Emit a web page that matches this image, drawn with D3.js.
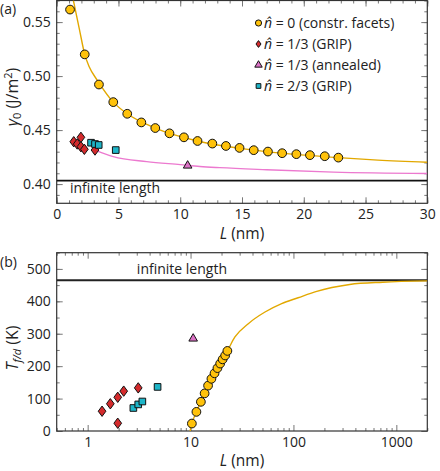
<!DOCTYPE html>
<html>
<head>
<meta charset="utf-8">
<script src="https://cdn.jsdelivr.net/npm/d3@7"></script>
<style>
  body { margin: 0; background: #fff; }
  svg text { font-family: "Open Sans", "DejaVu Sans", sans-serif; fill: #222; }
</style>
</head>
<body>
<svg id="vis" width="440" height="471"></svg>
<script>
// n = 0 (constrained facets)
const circL = [1.08, 2.27, 3.42, 4.58, 5.71, 6.85, 7.98, 9.13, 10.3, 11.4, 12.6, 13.7, 14.8, 15.95, 17.1, 18.25, 19.4, 20.5, 21.7, 22.8];
const circGamma = [0.5616, 0.5201, 0.4922, 0.4759, 0.4651, 0.4571, 0.4519, 0.447, 0.4433, 0.4399, 0.4375, 0.4353, 0.4335, 0.4314, 0.4301, 0.4286, 0.4277, 0.4268, 0.4258, 0.4245];
const circTL = [10.3, 11.4, 12.6, 13.7, 14.8, 15.95, 17.1, 18.25, 19.4, 20.5, 21.7, 22.8];
const circT = [23, 59, 90, 116, 140, 161, 178, 194, 208, 221, 233, 247];

// n = 1/3 (GRIP)
const diaL = [1.38, 1.66, 1.96, 1.96, 2.24, 3.1];
const diaGamma = [0.4392, 0.4371, 0.4433, 0.4346, 0.4322, 0.4315];
const diaT = [61, 84, 104, 24, 123, 133];

// n = 1/3 (annealed)
const triL = [10.6];
const triGamma = [0.4171];
const triT = [285];

// n = 2/3 (GRIP)
const sqL = [2.78, 3.1, 3.4, 4.78];
const sqGamma = [0.4383, 0.4371, 0.4362, 0.4315];
const sqT = [71, 82, 91, 136];

// fitted curves
const fitTopL = [1.35, 1.83, 2.27, 2.64, 3.29, 4.58, 5.71, 7.98, 11.4, 15.95, 22.8, 26, 30];
const fitTopG = [0.570, 0.5438, 0.5201, 0.5084, 0.4961, 0.4759, 0.4651, 0.4519, 0.4399, 0.4314, 0.4245, 0.4222, 0.4202];
const pinkL = [3.1, 4.58, 7.29, 10.0, 11.6, 13.2, 17, 22.4, 30];
const pinkG = [0.4315, 0.4254, 0.4208, 0.418, 0.4163, 0.4152, 0.4133, 0.4111, 0.4098];
const fitBotL = [9.9, 10.3, 11.4, 12.6, 14.8, 17.1, 19.4, 22.8, 27, 36.4, 52.9, 76.8, 111, 165, 352, 738, 2000];
const fitBotT = [0, 23, 59, 90, 140, 178, 208, 247, 290, 331, 367, 393, 411, 430, 452, 459, 463];

const gammaInf = 0.4032;
const tInf = 465;

const legendLabels = ["0 (constr. facets)", "1/3 (GRIP)", "1/3 (annealed)", "2/3 (GRIP)"];

const yellow = "#ffc20a", yellowLine = "#e2a800", red = "#d42a2c", pink = "#dc72c6", pinkLine = "#ec79cf", teal = "#1db5c8";

const svg = d3.select("#vis");
const left = 56.7, right = 427.3;

const zip = (a, b) => a.map((v, i) => [v, b[i]]);

const diamond = {
  draw(ctx, size) {
    const h = Math.sqrt(size) * 0.62, w = h * 0.74;
    ctx.moveTo(0, -h); ctx.lineTo(w, 0); ctx.lineTo(0, h); ctx.lineTo(-w, 0); ctx.closePath();
  }
};

function frameAxes(g, x, y, opts) {
  const [x0, x1] = x.range(), [y0, y1] = y.range();
  const style = sel => {
    sel.select(".domain").remove();
    sel.selectAll("line").attr("stroke", "#777");
    sel.selectAll("text").attr("font-size", 14).attr("fill", "#222");
  };
  // bottom
  g.append("g").attr("transform", `translate(0,${y0})`)
    .call(d3.axisBottom(x).tickValues(opts.xMinor).tickSize(-3).tickFormat("")).call(style);
  g.append("g").attr("transform", `translate(0,${y0})`)
    .call(d3.axisBottom(x).tickValues(opts.xMajor).tickSize(-6).tickPadding(6).tickFormat(opts.xFmt)).call(style);
  // top
  g.append("g").attr("transform", `translate(0,${y1})`)
    .call(d3.axisTop(x).tickValues(opts.xMinor).tickSize(-3).tickFormat("")).call(style);
  g.append("g").attr("transform", `translate(0,${y1})`)
    .call(d3.axisTop(x).tickValues(opts.xMajor).tickSize(-6).tickFormat("")).call(style);
  // left
  g.append("g").attr("transform", `translate(${x0},0)`)
    .call(d3.axisLeft(y).tickValues(opts.yMinor).tickSize(-3).tickFormat("")).call(style);
  g.append("g").attr("transform", `translate(${x0},0)`)
    .call(d3.axisLeft(y).tickValues(opts.yMajor).tickSize(-6).tickPadding(6).tickFormat(opts.yFmt)).call(style);
  // right
  g.append("g").attr("transform", `translate(${x1},0)`)
    .call(d3.axisRight(y).tickValues(opts.yMinor).tickSize(-3).tickFormat("")).call(style);
  g.append("g").attr("transform", `translate(${x1},0)`)
    .call(d3.axisRight(y).tickValues(opts.yMajor).tickSize(-6).tickFormat("")).call(style);

  g.append("rect").attr("x", x0).attr("y", y1).attr("width", x1 - x0).attr("height", y0 - y1)
    .attr("fill", "none").attr("stroke", "#333").attr("stroke-width", 1.2);
}

function markers(g, pts, type, size, fill) {
  g.selectAll(null).data(pts).join("path")
    .attr("transform", d => `translate(${d[0]},${d[1]})`)
    .attr("d", d3.symbol().type(type).size(size))
    .attr("fill", fill).attr("stroke", "#111").attr("stroke-width", 1);
}

// ---------- panel (a) ----------
const xa = d3.scaleLinear().domain([0, 30]).range([left, right]);
const ya = d3.scaleLinear().domain([0.3822, 0.570]).range([203.3, 0.5]);
const ga = svg.append("g");
svg.append("clipPath").attr("id", "clipA").append("rect")
  .attr("x", left).attr("y", 0.5).attr("width", right - left).attr("height", 202.8);

frameAxes(ga, xa, ya, {
  xMajor: d3.range(0, 31, 5), xMinor: d3.range(0, 31, 1), xFmt: d3.format("d"),
  yMajor: [0.40, 0.45, 0.50, 0.55], yMinor: d3.range(0.39, 0.571, 0.01), yFmt: d3.format(".2f")
});

const pa = ga.append("g").attr("clip-path", "url(#clipA)");
pa.append("line").attr("x1", left).attr("x2", right).attr("y1", ya(gammaInf)).attr("y2", ya(gammaInf))
  .attr("stroke", "#111").attr("stroke-width", 1.8);
const lineA = d3.line().x(d => xa(d[0])).y(d => ya(d[1])).curve(d3.curveMonotoneX);
pa.append("path").datum(zip(fitTopL, fitTopG)).attr("d", lineA).attr("fill", "none").attr("stroke", yellowLine).attr("stroke-width", 1.4);
pa.append("path").datum(zip(pinkL, pinkG)).attr("d", lineA).attr("fill", "none").attr("stroke", pinkLine).attr("stroke-width", 1.4);

markers(pa, zip(circL, circGamma).map(d => [xa(d[0]), ya(d[1])]), d3.symbolCircle, 60, yellow);
markers(pa, zip(diaL, diaGamma).map(d => [xa(d[0]), ya(d[1])]), diamond, 70, red);
markers(pa, zip(sqL, sqGamma).map(d => [xa(d[0]), ya(d[1])]), d3.symbolSquare, 44, teal);
markers(pa, zip(triL, triGamma).map(d => [xa(d[0]), ya(d[1])]), d3.symbolTriangle, 32, pink);

ga.append("text").attr("x", 70).attr("y", 193).attr("font-size", 14).text("infinite length");

// legend
const legTypes = [d3.symbolCircle, diamond, d3.symbolTriangle, d3.symbolSquare];
const legFills = [yellow, red, pink, teal];
const legSizes = [30, 30, 24, 22];
const leg = ga.append("g");
legendLabels.forEach((lab, i) => {
  const yy = 23 + i * 21;
  leg.append("path").attr("transform", `translate(258.5,${yy})`)
    .attr("d", d3.symbol().type(legTypes[i]).size(legSizes[i]))
    .attr("fill", legFills[i]).attr("stroke", "#111").attr("stroke-width", 1);
  const t = leg.append("text").attr("x", 264).attr("y", yy + 5).attr("font-size", 14);
  t.append("tspan").attr("font-style", "italic").text("n\u0302");
  t.append("tspan").text(" = " + lab);
});

// axis titles (a)
const xtA = ga.append("text").attr("x", 242).attr("y", 239).attr("text-anchor", "middle").attr("font-size", 15.5);
xtA.append("tspan").attr("font-style", "italic").text("L");
xtA.append("tspan").text(" (nm)");
const ytA = ga.append("text").attr("transform", "translate(18,97) rotate(-90)").attr("text-anchor", "middle").attr("font-size", 16);
ytA.append("tspan").attr("font-style", "italic").text("\u03b3");
ytA.append("tspan").attr("font-size", 11).attr("dy", 3).text("0");
ytA.append("tspan").attr("dy", -3).text(" (J/m");
ytA.append("tspan").attr("font-size", 11).attr("dy", -6).text("2");
ytA.append("tspan").attr("dy", 6).text(")");
ga.append("text").attr("x", 0).attr("y", 14).attr("font-size", 14).text("(a)");

// ---------- panel (b) ----------
const xb = d3.scaleLog().domain([0.5, 2000]).range([left, right]);
const yb = d3.scaleLinear().domain([0, 550]).range([431, 252.7]);
const gb = svg.append("g");
svg.append("clipPath").attr("id", "clipB").append("rect")
  .attr("x", left).attr("y", 252.7).attr("width", right - left).attr("height", 431 - 252.7);

const logMinor = [];
[0.1, 1, 10, 100, 1000].forEach(dec => d3.range(2, 10).forEach(m => {
  const v = dec * m; if (v >= 0.5 && v <= 2000) logMinor.push(v);
}));
frameAxes(gb, xb, yb, {
  xMajor: [1, 10, 100, 1000], xMinor: logMinor, xFmt: d3.format("d"),
  yMajor: d3.range(0, 501, 100), yMinor: d3.range(0, 551, 50), yFmt: d3.format("d")
});

const pb = gb.append("g").attr("clip-path", "url(#clipB)");
pb.append("line").attr("x1", left).attr("x2", right).attr("y1", yb(tInf)).attr("y2", yb(tInf))
  .attr("stroke", "#222").attr("stroke-width", 1.8);
const lineB = d3.line().x(d => xb(d[0])).y(d => yb(d[1])).curve(d3.curveMonotoneX);
pb.append("path").datum(zip(fitBotL, fitBotT)).attr("d", lineB).attr("fill", "none").attr("stroke", yellowLine).attr("stroke-width", 1.4);

markers(pb, zip(diaL, diaT).map(d => [xb(d[0]), yb(d[1])]), diamond, 70, red);
markers(pb, zip(sqL, sqT).map(d => [xb(d[0]), yb(d[1])]), d3.symbolSquare, 44, teal);
markers(pb, zip(triL, triT).map(d => [xb(d[0]), yb(d[1])]), d3.symbolTriangle, 32, pink);
markers(pb, zip(circTL, circT).map(d => [xb(d[0]), yb(d[1])]), d3.symbolCircle, 60, yellow);

gb.append("text").attr("x", 227).attr("y", 274).attr("text-anchor", "end").attr("font-size", 14).text("infinite length");

const xtB = gb.append("text").attr("x", 242).attr("y", 466).attr("text-anchor", "middle").attr("font-size", 15.5);
xtB.append("tspan").attr("font-style", "italic").text("L");
xtB.append("tspan").text(" (nm)");
const ytB = gb.append("text").attr("transform", "translate(18,348) rotate(-90)").attr("text-anchor", "middle").attr("font-size", 16);
ytB.append("tspan").attr("font-style", "italic").text("T");
ytB.append("tspan").attr("font-size", 11).attr("font-style", "italic").attr("dy", 3).text("f/d");
ytB.append("tspan").attr("dy", -3).text(" (K)");
gb.append("text").attr("x", 0).attr("y", 267).attr("font-size", 14).text("(b)");
</script>
</body>
</html>
